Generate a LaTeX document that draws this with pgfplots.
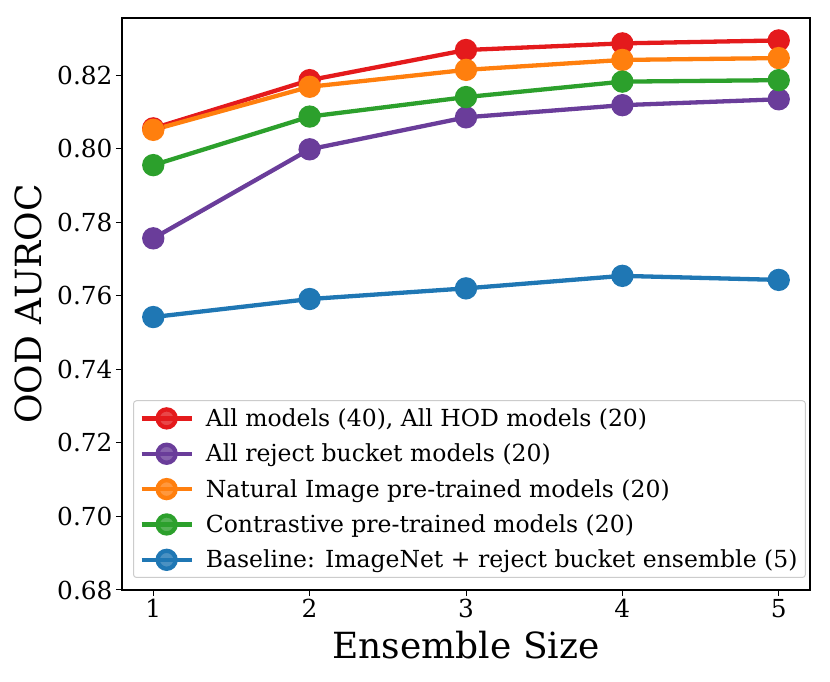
\documentclass[border=0pt]{standalone}
\usepackage{fontspec}
\setmainfont{DejaVu Serif}
\usepackage{pgfplots}
\pgfplotsset{compat=1.18}

\definecolor{cred}{RGB}{228,26,28}
\definecolor{cpurple}{RGB}{106,61,154}
\definecolor{corange}{RGB}{255,127,14}
\definecolor{cgreen}{RGB}{44,160,44}
\definecolor{cblue}{RGB}{31,119,180}

\newcommand{\tickfont}{\fontsize{24.8}{29}\selectfont}
\newcommand{\legfont}{\fontsize{23.5}{27}\selectfont}
\newcommand{\labfont}{\fontsize{36}{42}\selectfont}

\begin{document}
\begin{tikzpicture}[x=1pt,y=1pt]
  \useasboundingbox (-122,-92) rectangle (708,590);
  \begin{axis}[
    at={(0,0)}, anchor=south west,
    scale only axis,
    width=688pt, height=572pt,
    xmin=0.8, xmax=5.2,
    ymin=0.68, ymax=0.8355,
    xtick={1,2,3,4,5},
    ytick={0.68,0.70,0.72,0.74,0.76,0.78,0.80,0.82},
    yticklabel style={/pgf/number format/.cd, fixed, fixed zerofill, precision=2},
    /pgf/number format/assume math mode=true,
    tick align=outside,
    tick pos=left,
    major tick length=6pt,
    tick style={line width=1pt, black},
    axis line style={line width=1.2pt},
    ticklabel style={font=\tickfont},
    xlabel={Ensemble Size},
    ylabel={OOD AUROC},
    label style={font=\labfont},
    xlabel style={at={(axis description cs:0.5,0)}, anchor=center, yshift=-55pt},
    ylabel style={at={(axis description cs:-0.1366,0.5)}, anchor=center},
    legend cell align=left,
    legend style={
      at={(axis description cs:0.016,0.021)}, anchor=south west,
      font=\legfont,
      draw=black!20, line width=1pt, rounded corners=3pt,
      fill=white, fill opacity=0.8, text opacity=1,
      row sep=12pt, column sep=10pt, inner sep=6pt,
      nodes={inner sep=2pt},
    },
    legend image code/.code={
      \draw[mark repeat=2, mark phase=2] plot coordinates {(0pt,0pt) (25pt,0pt) (50pt,0pt)};
    },
    every axis plot/.append style={line width=4.3pt, mark=*, mark size=9pt, mark options={solid, line width=0pt}},
  ]
    \addplot[cred, mark options={fill=cred}] coordinates {
      (1,0.8055) (2,0.8186) (3,0.8268) (4,0.8286) (5,0.8294)
    };
    \addlegendentry{All models (40), All HOD models (20)}
    \addplot[cpurple, mark options={fill=cpurple}] coordinates {
      (1,0.7756) (2,0.7998) (3,0.8085) (4,0.8118) (5,0.8134)
    };
    \addlegendentry{All reject bucket models (20)}
    \addplot[corange, mark options={fill=corange}] coordinates {
      (1,0.8051) (2,0.8168) (3,0.8214) (4,0.8241) (5,0.8246)
    };
    \addlegendentry{Natural Image pre-trained models (20)}
    \addplot[cgreen, mark options={fill=cgreen}] coordinates {
      (1,0.7955) (2,0.8087) (3,0.8140) (4,0.8182) (5,0.8186)
    };
    \addlegendentry{Contrastive pre-trained models (20)}
    \addplot[cblue, mark options={fill=cblue}] coordinates {
      (1,0.7542) (2,0.7591) (3,0.7620) (4,0.7654) (5,0.7643)
    };
    \addlegendentry{Baseline: ImageNet + reject bucket ensemble (5)}
  \end{axis}
\end{tikzpicture}
\end{document}
